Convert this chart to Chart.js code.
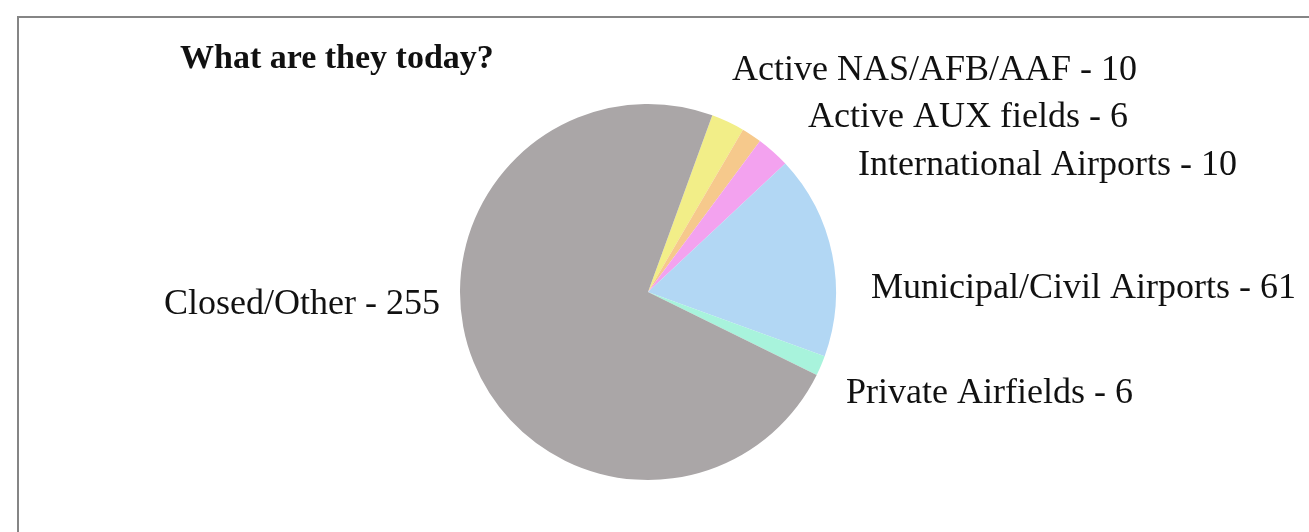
<!DOCTYPE html>
<html>
<head>
<meta charset="utf-8">
<script src="https://cdn.jsdelivr.net/npm/chart.js@4/dist/chart.umd.min.js"></script>
<style>
  html, body { margin: 0; padding: 0; background: #fff; }
  #wrap { position: relative; width: 1309px; height: 532px; overflow: hidden; }
  #frame { position: absolute; left: 17px; top: 16px; width: 1400px; height: 600px;
           border-left: 2px solid #858585; border-top: 2px solid #858585; }
  canvas { position: absolute; left: 0; top: 0; }
</style>
</head>
<body>
<div id="wrap">
  <div id="frame"></div>
  <canvas id="myChart" width="1309" height="532"></canvas>
</div>
<script>
var categories = ["Active NAS/AFB/AAF", "Active AUX fields", "International Airports",
                  "Municipal/Civil Airports", "Private Airfields", "Closed/Other"];
var counts = [10, 6, 10, 61, 6, 255];
var sliceColors = ["#f2ee88", "#f6c98c", "#f3a2ef", "#b2d7f4", "#a8f3dc", "#aaa6a7"];

// where each label's text sits (x, baseline); Closed/Other is right-aligned
var labelSpots = [
  { x: 732, y: 80, align: "left" },
  { x: 808, y: 127, align: "left" },
  { x: 858, y: 175, align: "left" },
  { x: 871, y: 298, align: "left" },
  { x: 846, y: 403, align: "left" },
  { x: 440, y: 314, align: "right" }
];

var sliceLabels = {
  id: "sliceLabels",
  afterDraw: function (chart) {
    var ctx = chart.ctx;
    ctx.save();
    ctx.fillStyle = "#111";
    ctx.textBaseline = "alphabetic";
    ctx.font = "36px 'Liberation Serif', serif";
    categories.forEach(function (name, i) {
      var s = labelSpots[i];
      ctx.textAlign = s.align;
      ctx.fillText(name + " - " + counts[i], s.x, s.y);
    });
    ctx.font = "bold 34px 'Liberation Serif', serif";
    ctx.textAlign = "left";
    ctx.fillText("What are they today?", 180, 68);
    ctx.restore();
  }
};

new Chart("myChart", {
  type: "pie",
  data: {
    labels: categories,
    datasets: [{
      data: counts,
      backgroundColor: sliceColors,
      borderWidth: 0
    }]
  },
  options: {
    responsive: false,
    animation: false,
    rotation: 20,
    layout: { padding: { left: 460, right: 473, top: 104, bottom: 52 } },
    plugins: {
      legend: { display: false },
      tooltip: { enabled: false }
    }
  },
  plugins: [sliceLabels]
});
</script>
</body>
</html>
